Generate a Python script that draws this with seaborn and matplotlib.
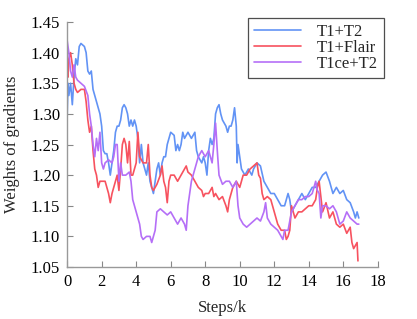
import pandas as pd
import seaborn as sns
import matplotlib
matplotlib.use('Agg')
import matplotlib.pyplot as plt

# traced values: (steps in k, weight)
t1t2_x = [0, 0.05, 0.1, 0.2, 0.3, 0.4, 0.5, 0.6, 0.7, 0.8, 1.0, 1.1, 1.2, 1.3, 1.4, 1.5, 1.6, 1.7, 1.8,
          1.9, 2.0, 2.1, 2.2, 2.3, 2.4, 2.5, 2.6, 2.7, 2.8, 2.9, 3.0, 3.1, 3.2, 3.3, 3.4, 3.5, 3.6, 3.7,
          3.8, 3.9, 4.0, 4.1, 4.2, 4.3, 4.4, 4.5, 4.6, 4.7, 4.8, 4.9, 5.0, 5.1, 5.2, 5.3, 5.4, 5.5, 5.6,
          5.7, 5.8, 5.9, 6.0, 6.2, 6.3, 6.4, 6.5, 6.6, 6.7, 6.8, 7.0, 7.2, 7.4, 7.5, 7.6, 7.8, 7.9, 8.0,
          8.1, 8.2, 8.3, 8.4, 8.5, 8.6, 8.7, 8.8, 8.9, 9.0, 9.2, 9.3, 9.4, 9.5, 9.6, 9.7, 9.8, 9.85, 9.9,
          10.0, 10.1, 10.3, 10.5, 10.7, 10.8, 11.0, 11.2, 11.4, 11.6, 11.8, 12.0, 12.2, 12.4, 12.6, 12.8,
          12.9, 13.0, 13.2, 13.4, 13.6, 13.8, 14.0, 14.2, 14.4, 14.6, 14.8, 15.0, 15.2, 15.4, 15.6, 15.8,
          16.0, 16.2, 16.4, 16.6, 16.7, 16.8, 16.9]
t1t2_y = [1.295, 1.35, 1.33, 1.35, 1.315, 1.36, 1.39, 1.38, 1.41, 1.415, 1.41, 1.40, 1.37, 1.365,
          1.37, 1.34, 1.33, 1.32, 1.31, 1.30, 1.28, 1.24, 1.235, 1.235, 1.22, 1.20, 1.22, 1.24, 1.27,
          1.28, 1.28, 1.29, 1.31, 1.315, 1.31, 1.30, 1.28, 1.29, 1.28, 1.29, 1.28, 1.26, 1.22, 1.25,
          1.22, 1.21, 1.20, 1.22, 1.19, 1.18, 1.17, 1.19, 1.21, 1.22, 1.20, 1.22, 1.23, 1.23, 1.25,
          1.26, 1.27, 1.265, 1.24, 1.25, 1.24, 1.25, 1.27, 1.26, 1.27, 1.26, 1.27, 1.24, 1.23, 1.22,
          1.23, 1.22, 1.20, 1.24, 1.26, 1.25, 1.26, 1.30, 1.31, 1.315, 1.30, 1.29, 1.28, 1.27, 1.28,
          1.28, 1.29, 1.31, 1.28, 1.22, 1.25, 1.23, 1.21, 1.20, 1.21, 1.20, 1.21, 1.22, 1.215, 1.19,
          1.18, 1.17, 1.17, 1.16, 1.15, 1.15, 1.17, 1.16, 1.14, 1.15, 1.16, 1.17, 1.16, 1.17, 1.18,
          1.18, 1.19, 1.20, 1.205, 1.19, 1.17, 1.18, 1.17, 1.175, 1.16, 1.155, 1.14, 1.13, 1.14, 1.13]

flair_x = [0, 0.05, 0.1, 0.2, 0.3, 0.4, 0.5, 0.6, 0.8, 1.0, 1.1, 1.2, 1.3, 1.4, 1.5, 1.6, 1.7, 1.8,
           1.9, 2.0, 2.2, 2.4, 2.5, 2.6, 2.8, 2.9, 3.0, 3.1, 3.2, 3.3, 3.4, 3.5, 3.6, 3.7, 3.8, 4.0,
           4.1, 4.2, 4.4, 4.6, 4.7, 4.8, 4.9, 5.0, 5.2, 5.4, 5.5, 5.6, 5.7, 5.8, 5.9, 6.0, 6.2, 6.4,
           6.6, 6.8, 6.9, 7.0, 7.2, 7.4, 7.6, 7.8, 7.9, 8.0, 8.2, 8.4, 8.5, 8.6, 8.8, 9.0, 9.2, 9.3,
           9.4, 9.6, 9.8, 10.0, 10.2, 10.4, 10.6, 10.8, 11.0, 11.1, 11.2, 11.3, 11.4, 11.6, 11.8, 12.0,
           12.2, 12.4, 12.6, 12.7, 12.8, 12.9, 13.0, 13.2, 13.4, 13.6, 13.8, 14.0, 14.2, 14.4, 14.5,
           14.6, 14.8, 15.0, 15.2, 15.4, 15.6, 15.8, 16.0, 16.2, 16.4, 16.5, 16.6, 16.7, 16.8, 16.85]
flair_y = [1.38, 1.36, 1.39, 1.40, 1.38, 1.35, 1.34, 1.335, 1.34, 1.34, 1.32, 1.29, 1.27, 1.28,
           1.24, 1.21, 1.20, 1.18, 1.19, 1.19, 1.19, 1.17, 1.155, 1.17, 1.19, 1.20, 1.175, 1.21, 1.25,
           1.26, 1.25, 1.22, 1.255, 1.20, 1.20, 1.22, 1.27, 1.23, 1.22, 1.22, 1.25, 1.20, 1.18, 1.175,
           1.185, 1.20, 1.215, 1.19, 1.18, 1.155, 1.19, 1.20, 1.20, 1.19, 1.20, 1.21, 1.215, 1.205,
           1.20, 1.19, 1.18, 1.175, 1.165, 1.17, 1.17, 1.18, 1.165, 1.17, 1.16, 1.165, 1.15, 1.14,
           1.16, 1.18, 1.19, 1.18, 1.20, 1.20, 1.21, 1.215, 1.22, 1.20, 1.195, 1.17, 1.16, 1.165,
           1.16, 1.14, 1.12, 1.11, 1.11, 1.095, 1.10, 1.11, 1.15, 1.13, 1.14, 1.14, 1.145, 1.15,
           1.15, 1.16, 1.18, 1.19, 1.14, 1.155, 1.13, 1.14, 1.12, 1.115, 1.12, 1.105, 1.115, 1.09,
           1.08, 1.085, 1.09, 1.06]

t1ce_x = [0, 0.1, 0.2, 0.3, 0.4, 0.5, 0.6, 0.8, 1.0, 1.2, 1.3, 1.4, 1.5, 1.6, 1.7, 1.8, 1.9, 2.0,
          2.1, 2.2, 2.4, 2.6, 2.7, 2.8, 2.9, 3.0, 3.1, 3.2, 3.4, 3.6, 3.7, 3.8, 3.9, 4.0, 4.2, 4.3,
          4.4, 4.6, 4.8, 4.9, 5.0, 5.1, 5.2, 5.4, 5.6, 5.8, 6.0, 6.2, 6.4, 6.6, 6.8, 6.9, 7.0, 7.2,
          7.4, 7.5, 7.6, 7.8, 8.0, 8.2, 8.4, 8.5, 8.6, 8.7, 8.8, 9.0, 9.2, 9.4, 9.6, 9.8, 9.9, 10.0,
          10.2, 10.4, 10.6, 10.8, 11.0, 11.2, 11.4, 11.5, 11.6, 11.8, 12.0, 12.2, 12.4, 12.5, 12.6,
          12.8, 13.0, 13.2, 13.4, 13.6, 13.8, 14.0, 14.2, 14.4, 14.5, 14.6, 14.7, 14.8, 15.0, 15.2,
          15.4, 15.6, 15.8, 16.0, 16.2, 16.4, 16.6, 16.8, 16.9]
t1ce_y = [1.42, 1.40, 1.37, 1.36, 1.38, 1.36, 1.355, 1.35, 1.345, 1.33, 1.30, 1.28, 1.25, 1.23,
          1.26, 1.24, 1.27, 1.22, 1.21, 1.22, 1.225, 1.22, 1.23, 1.25, 1.25, 1.19, 1.22, 1.20, 1.20,
          1.205, 1.19, 1.16, 1.15, 1.14, 1.12, 1.10, 1.095, 1.10, 1.10, 1.09, 1.10, 1.11, 1.14,
          1.145, 1.14, 1.135, 1.14, 1.13, 1.12, 1.13, 1.12, 1.11, 1.15, 1.19, 1.21, 1.22, 1.23,
          1.24, 1.23, 1.24, 1.22, 1.25, 1.285, 1.24, 1.20, 1.185, 1.19, 1.19, 1.18, 1.19, 1.15,
          1.13, 1.12, 1.115, 1.12, 1.125, 1.13, 1.125, 1.14, 1.155, 1.13, 1.12, 1.115, 1.11, 1.10,
          1.095, 1.11, 1.11, 1.14, 1.15, 1.16, 1.16, 1.165, 1.165, 1.17, 1.19, 1.175, 1.17, 1.13,
          1.15, 1.15, 1.145, 1.15, 1.14, 1.12, 1.125, 1.14, 1.13, 1.125, 1.12, 1.12]

series = ['T1+T2', 'T1+Flair', 'T1ce+T2']
colors = ['#6293f5', '#f7525f', '#b56ff7']

frames = []
for name, xs, ys in zip(series, [t1t2_x, flair_x, t1ce_x], [t1t2_y, flair_y, t1ce_y]):
    frames.append(pd.DataFrame({'step': xs, 'weight': ys, 'type': name}))
df = pd.concat(frames, ignore_index=True)

sns.set_theme(style='white')
plt.rcParams['font.family'] = ['Liberation Serif', 'DejaVu Serif']

fig = plt.figure(figsize=(4.17, 3.19), dpi=100)
ax = fig.add_axes([0.161, 0.163, 0.745, 0.768])
sns.lineplot(data=df, x='step', y='weight', hue='type', hue_order=series,
             palette=colors, sort=False, estimator=None, linewidth=1.2, ax=ax)

ax.set_xlim(0, 18)
ax.set_ylim(1.05, 1.45)
ax.set_xticks(range(0, 19, 2))
ax.set_yticks([1.05, 1.10, 1.15, 1.20, 1.25, 1.30, 1.35, 1.40, 1.45])
ax.set_yticklabels(['%.2f' % v for v in ax.get_yticks()])
ax.set_xlabel('Steps/k', fontsize=12, labelpad=7)
ax.set_ylabel('Weights of gradients', fontsize=12, labelpad=8)
ax.tick_params(direction='in', length=4, width=0.8, color='#888888', labelsize=12,
               left=True, bottom=True, labelcolor='black')
ax.tick_params(axis='x', pad=5)
ax.tick_params(axis='y', pad=5)
sns.despine(ax=ax)
for side in ['left', 'bottom']:
    ax.spines[side].set_color('#999999')
    ax.spines[side].set_linewidth(1.0)

handles, labels = ax.get_legend_handles_labels()
leg = ax.legend(handles=handles, labels=labels, loc='upper right',
                bbox_to_anchor=(1.02, 1.015), fontsize=12, frameon=True, fancybox=False,
                handlelength=2.8, handletextpad=1.0, labelspacing=0.0,
                borderpad=0.35, borderaxespad=0.0)
leg.get_frame().set_edgecolor('#222222')
leg.get_frame().set_linewidth(0.9)
leg.get_frame().set_boxstyle('square', pad=0)

fig.savefig('out.png', dpi=100)
